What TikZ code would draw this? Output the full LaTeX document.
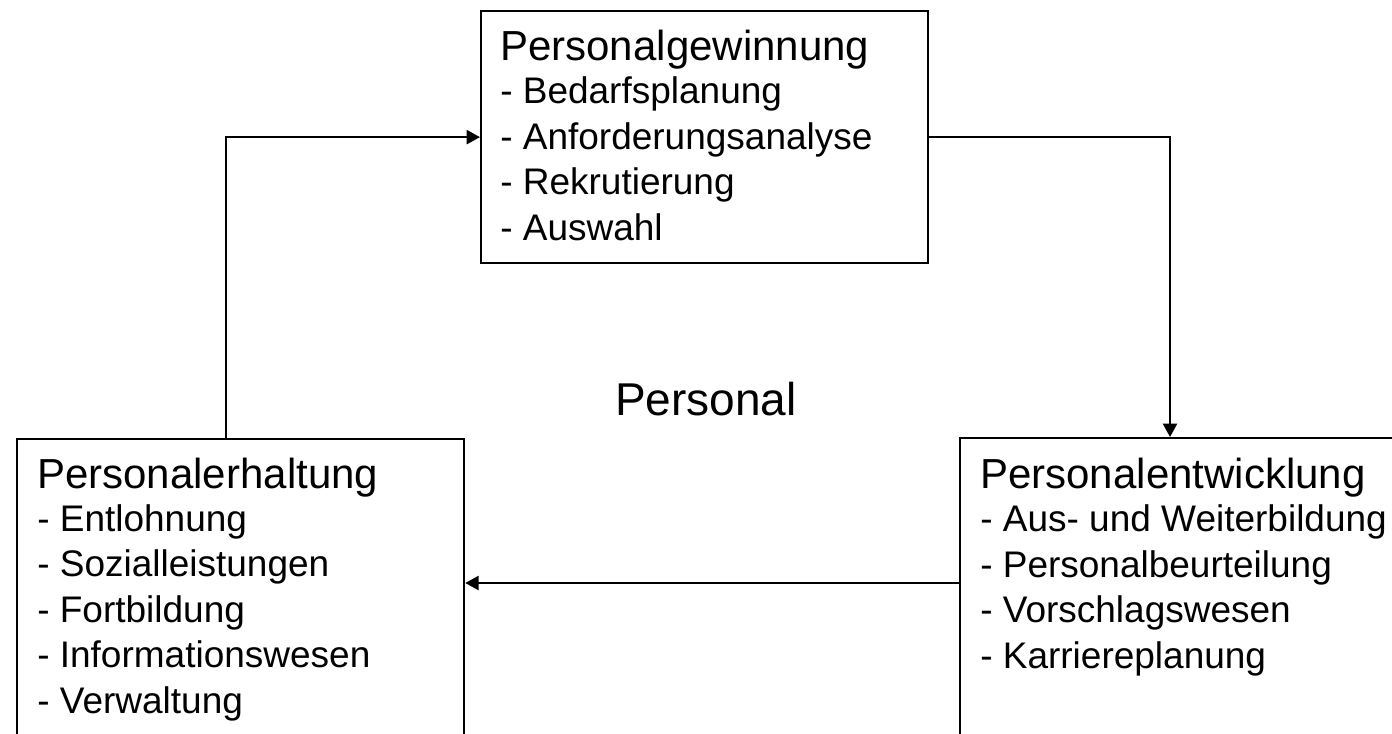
\documentclass[tikz,border=0pt]{standalone}
\usepackage{fontspec}
\setmainfont{Liberation Sans}
\usetikzlibrary{arrows.meta}

\begin{document}
\begin{tikzpicture}[x=0.75pt,y=-0.75pt,
  box/.style={draw,line width=1.7pt,anchor=north west,inner sep=0pt},
  txt/.style={anchor=base west,inner sep=0pt,align=left,font=\fontsize{27.75}{34.1}\selectfont},
  arr/.style={line width=1.7pt,-{Triangle[length=10pt,width=10.5pt]}}]
\useasboundingbox (0,0) rectangle (1392,733);
\clip (0,0) rectangle (1392,733);
\node[box,minimum width=335.25pt,minimum height=189pt] (gew) at (480,10) {};
\node[box,minimum width=335.25pt,minimum height=240pt] (erh) at (16,438) {};
\node[box,minimum width=345pt,minimum height=240pt] (ent) at (959,437) {};
% anchor base = baseline of the last line
\node[txt] (gewtxt) at (500,240) {{\fontsize{31.5}{34.1}\selectfont Personalgewinnung}\\[-1.8pt]
- Bedarfsplanung\\- Anforderungsanalyse\\- Rekrutierung\\- Auswahl};
\node[txt] (erhtxt) at (37,713) {{\fontsize{31.5}{34.1}\selectfont Personalerhaltung}\\[-1.8pt]
- Entlohnung\\- Sozialleistungen\\- Fortbildung\\- Informationswesen\\- Verwaltung};
\node[txt] (enttxt) at (980,668) {{\fontsize{31.5}{34.1}\selectfont Personalentwicklung}\\[-1.8pt]
- Aus- und Weiterbildung\\- Personalbeurteilung\\- Vorschlagswesen\\- Karriereplanung};
\node[anchor=base,inner sep=0pt,font=\fontsize{34.5}{40}\selectfont] (pers) at (706,415) {Personal};
\draw[arr] ([xshift=157.5pt]erh.north west) |- (gew.west);
\draw[arr] (gew.east) -| ([xshift=158.25pt]ent.north west);
\draw[arr] ([yshift=-109.5pt]ent.north west) -- ([yshift=-109.5pt]ent.north west -| erh.east);
\end{tikzpicture}
\end{document}
